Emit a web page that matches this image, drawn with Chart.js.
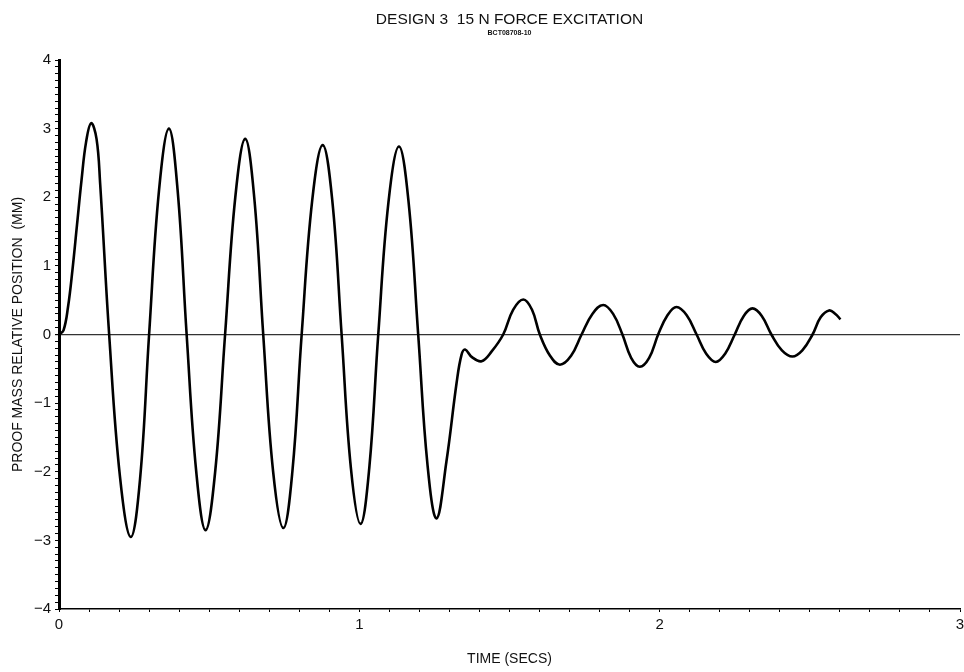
<!DOCTYPE html>
<html>
<head>
<meta charset="utf-8">
<script src="https://cdn.jsdelivr.net/npm/chart.js@4.4.0/dist/chart.umd.min.js"></script>
<style>
html, body { margin: 0; padding: 0; background: #fff; }
#wrap { width: 964px; height: 672px; }
</style>
</head>
<body>
<div id="wrap"><canvas id="lineChart"></canvas></div>
<script>
// time (s) and proof mass position (mm)
const timeSecs = [
    0, 0.015, 0.03, 0.045, 0.06, 0.075, 0.09, 0.107, 0.125, 0.137, 0.167,
    0.203, 0.239, 0.27, 0.300, 0.333, 0.366, 0.395, 0.425,
    0.457, 0.488, 0.52, 0.553, 0.587, 0.62, 0.65, 0.680,
    0.713, 0.747, 0.777, 0.808, 0.843, 0.878, 0.91, 0.941,
    0.972, 1.004, 1.033, 1.063, 1.097, 1.132, 1.164, 1.196,
    1.227, 1.257, 1.29, 1.324, 1.34, 1.352, 1.375, 1.407, 1.44,
    1.479, 1.512, 1.546, 1.575, 1.601, 1.635, 1.668, 1.705,
    1.74, 1.776, 1.812, 1.845, 1.876, 1.905, 1.934, 1.965,
    1.995, 2.026, 2.056, 2.09, 2.123, 2.155, 2.187, 2.218,
    2.25, 2.28, 2.309, 2.34, 2.372, 2.407, 2.442, 2.475,
    2.509, 2.536, 2.564, 2.585, 2.602
];
const position = [
    0, 0.06, 0.4, 0.95, 1.6, 2.25, 2.8, 3.08, 2.85, 2.2, 0,
    -2.07, -2.95, -2.1, 0, 2.1, 3.0, 2.1, 0,
    -2.0, -2.85, -2.0, 0, 2.0, 2.85, 2.0, 0,
    -2.0, -2.82, -2.0, 0, 1.95, 2.76, 1.95, 0,
    -1.95, -2.76, -1.95, 0, 1.93, 2.74, 1.93, 0,
    -1.9, -2.68, -1.85, -0.7, -0.3, -0.22, -0.33, -0.39, -0.25,
    0, 0.36, 0.51, 0.36, 0, -0.31, -0.44, -0.31,
    0, 0.3, 0.43, 0.3, 0, -0.34, -0.47, -0.34,
    0, 0.28, 0.40, 0.28, 0, -0.28, -0.40, -0.28,
    0, 0.27, 0.38, 0.27, 0, -0.23, -0.32, -0.23,
    0, 0.25, 0.35, 0.3, 0.22
];
const xRange = [0, 3];
const yRange = [-4, 4];

const isWhole = v => Math.abs(v - Math.round(v)) < 1e-6;
const font = "'Liberation Sans', 'DejaVu Sans', sans-serif";

const ctx = document.getElementById("lineChart");

let lineChart = new Chart(ctx, {
    type: 'line',
    data: {
        datasets: [
            {
                label: "Proof mass relative position",
                data: timeSecs.map((t, i) => ({ x: t, y: position[i] })),
                borderColor: "#000",
                borderWidth: 2.6,
                pointRadius: 0,
                fill: false,
                tension: 0.4
            }
        ]
    },
    options: {
        responsive: true,
        maintainAspectRatio: false,
        animation: false,
        layout: { padding: { right: 4 } },
        plugins: {
            legend: { display: false },
            tooltip: { enabled: false },
            title: {
                display: true,
                fullSize: false,
                text: "DESIGN 3  15 N FORCE EXCITATION",
                color: "#111",
                font: { family: font, size: 15.5, weight: 'normal' },
                padding: { top: 10, bottom: 0 }
            },
            subtitle: {
                display: true,
                fullSize: false,
                text: "BCT08708-10",
                color: "#111",
                font: { family: font, size: 7, weight: 'bold' },
                padding: { top: 0, bottom: 23 }
            }
        },
        scales: {
            x: {
                type: 'linear',
                min: xRange[0],
                max: xRange[1],
                afterFit: s => { s.height = 63; s.paddingLeft = 0; s.paddingRight = 0; },
                ticks: {
                    stepSize: 0.1,
                    autoSkip: false,
                    maxRotation: 0,
                    maxTicksLimit: 100,
                    color: "#111",
                    padding: 4,
                    font: { family: font, size: 15 },
                    callback: v => isWhole(v) ? String(Math.round(v)) : ''
                },
                grid: { drawOnChartArea: false, tickLength: 3, tickColor: "#000" },
                border: { color: "#000", width: 1.5 },
                title: {
                    display: true,
                    text: "TIME (SECS)",
                    color: "#111",
                    font: { family: font, size: 14 },
                    padding: { top: 4, bottom: 4 }
                }
            },
            y: {
                min: yRange[0],
                max: yRange[1],
                afterFit: s => { s.width = 59; s.paddingTop = 0; s.paddingBottom = 0; },
                ticks: {
                    stepSize: 0.1,
                    autoSkip: false,
                    maxTicksLimit: 100,
                    color: "#111",
                    padding: 4,
                    font: { family: font, size: 15 },
                    callback: v => isWhole(v) ? String(Math.round(v)).replace('-', '\u2212') : ''
                },
                grid: {
                    color: c => (c.tick && c.tick.value === 0) ? "#333" : "rgba(0,0,0,0)",
                    lineWidth: c => (c.tick && c.tick.value === 0) ? 1.2 : 1,
                    tickLength: 4,
                    tickColor: "#000"
                },
                border: { color: "#000", width: 3 },
                title: {
                    display: true,
                    text: "PROOF MASS RELATIVE POSITION  (MM)",
                    color: "#111",
                    font: { family: font, size: 14 },
                    padding: { top: 10, bottom: 0 }
                }
            }
        }
    }
});
</script>
</body>
</html>
